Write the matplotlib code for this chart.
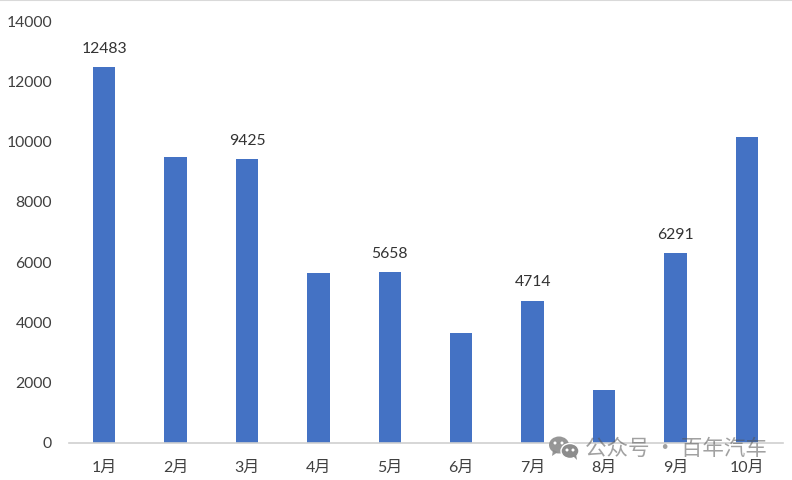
import matplotlib
matplotlib.use("Agg")
import matplotlib.pyplot as plt
from matplotlib.patches import Ellipse, Polygon

plt.rcParams["font.family"] = ["Lato", "Noto Sans CJK SC", "DejaVu Sans"]

months = ["1月", "2月", "3月", "4月", "5月", "6月", "7月", "8月", "9月", "10月"]
sales = [12483, 9500, 9425, 5640, 5658, 3650, 4714, 1730, 6291, 10170]
labeled = ["1月", "3月", "5月", "7月", "9月"]
yticks = [0, 2000, 4000, 6000, 8000, 10000, 12000, 14000]

fig = plt.figure(figsize=(7.92, 4.80), dpi=100)
ax = fig.add_axes([68.5 / 792, 37.5 / 480, 714 / 792, 421 / 480])

x = range(len(months))
bars = ax.bar(x, sales, width=0.315, color="#4472c4")

for i, b in enumerate(bars):
    if months[i] in labeled:
        ax.text(b.get_x() + b.get_width() / 2, sales[i] + 375, str(sales[i]),
                ha="center", va="bottom", fontsize=11.3, color="#333333")

ax.set_xlim(-0.5, 9.5)
ax.set_ylim(0, 14000)
ax.set_xticks(list(x))
ax.set_xticklabels(months, fontsize=11.5, color="#404040")
ax.set_yticks(yticks)
ax.set_yticklabels([str(v) for v in yticks], fontsize=11.3, color="#404040")
ax.tick_params(axis="x", length=0, pad=13)
ax.tick_params(axis="y", length=0, pad=12)

for s in ["top", "right", "left"]:
    ax.spines[s].set_visible(False)
ax.spines["bottom"].set_color("#d0d0d0")
ax.spines["bottom"].set_linewidth(1.2)

# top edge of the screenshot
fig.add_artist(plt.Line2D([0, 1], [0.999, 0.999], color="#d9d9d9", lw=1.5))

# watermark, overlay in pixel coords
wm = fig.add_axes([0, 0, 1, 1], facecolor="none")
wm.set_xlim(0, 792)
wm.set_ylim(480, 0)
wm.axis("off")
icon = "#8c8c8c"
wm.add_patch(Ellipse((559, 445), 20, 17, color=icon, alpha=0.9, lw=0))
wm.add_patch(Polygon([[553, 450], [552, 456], [558, 452]], color=icon, alpha=0.9, lw=0))
wm.add_patch(Ellipse((570, 451), 18, 15, color=icon, ec="white", lw=1))
wm.add_patch(Polygon([[573, 456], [577, 460], [576, 454]], color=icon, lw=0))
for ex, ey, col in [(555, 443, "white"), (562, 443, "white"), (567, 450, "white"), (573, 450, "white")]:
    wm.add_patch(Ellipse((ex, ey), 3, 3, color=col, lw=0))
wm.text(585, 449, "公众号 · 百年汽车", fontsize=15.5, color="#555555",
        alpha=0.55, va="center", ha="left", family=["Noto Sans CJK SC", "DejaVu Sans"])

fig.savefig("out.png", dpi=100)
